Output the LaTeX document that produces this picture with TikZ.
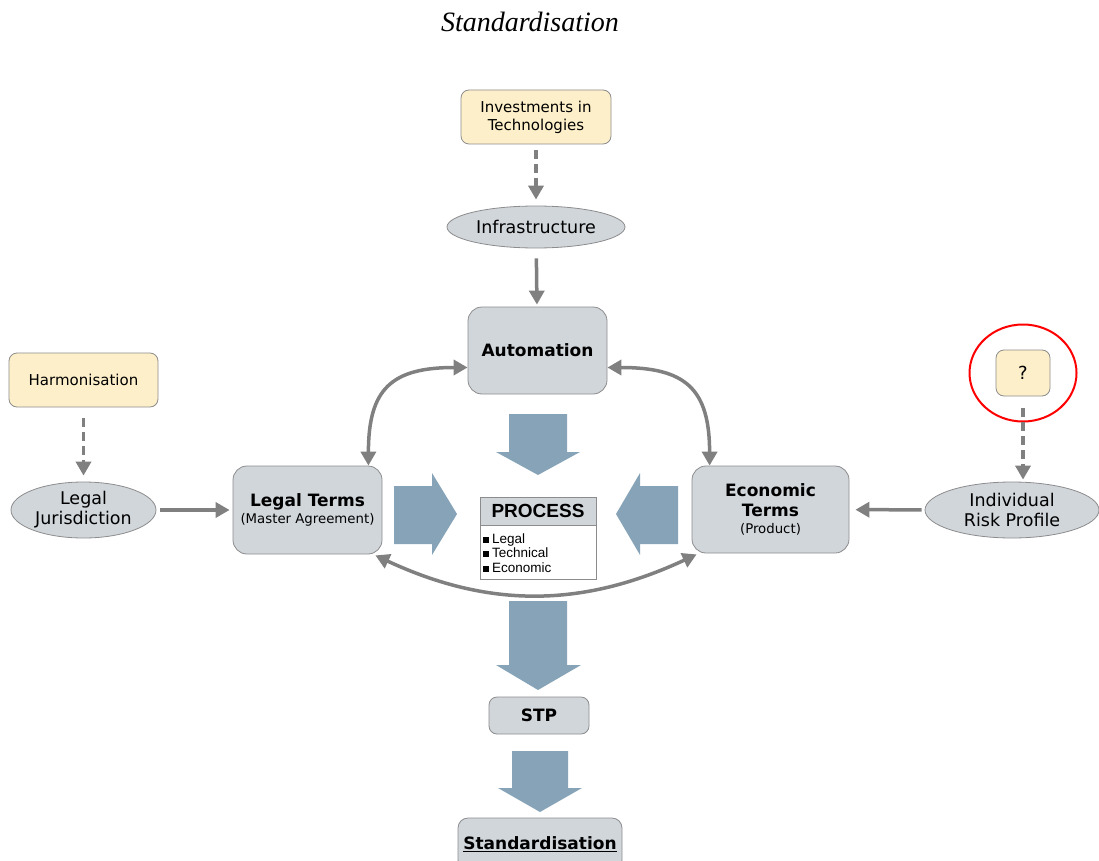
\documentclass[tikz,border=0pt]{standalone}
\usepackage{fontspec}
\setmainfont{DejaVu Sans}
\newfontfamily\arialfont{Liberation Sans}
\newfontfamily\timesfont{Liberation Serif}
\usetikzlibrary{shapes.geometric,arrows.meta,positioning,calc}
\definecolor{creamfill}{HTML}{FDEFC9}
\definecolor{boxgrey}{HTML}{D1D6DB}
\definecolor{boxline}{HTML}{8C8C8C}
\definecolor{linkgrey}{HTML}{808080}
\definecolor{flowblue}{HTML}{86A3B7}
\tikzset{
  tanbox/.style={draw=boxline, fill=creamfill, rounded corners=8pt,
    align=center, line width=0.8pt, inner sep=0pt},
  greybox/.style={draw=boxline, fill=boxgrey, rounded corners=14pt,
    align=center, line width=0.8pt, inner sep=0pt},
  oval/.style={ellipse, draw=boxline, fill=boxgrey, align=center,
    line width=0.8pt, inner sep=0pt},
  tip/.style={-{Triangle[length=14pt,width=15pt]}},
  link/.style={draw=linkgrey, line width=3.5pt, tip},
  dashlink/.style={link, dash pattern=on 9pt off 5pt},
  duallink/.style={draw=linkgrey, line width=3.5pt,
    {Triangle[length=14pt,width=15pt]}-{Triangle[length=14pt,width=15pt]}},
  fatarrow/.style={fill=flowblue, draw=none}
}
\newcommand{\bulletsq}{\rule[0.5pt]{6pt}{6pt}\hspace{3pt}}
\newcommand{\headtxt}{\bfseries\fontsize{17}{20}\selectfont}
\newcommand{\subtxt}{\mdseries\fontsize{13.3}{15}\selectfont}
\newcommand{\ovaltxt}{\fontsize{17.5}{20}\selectfont}
\newcommand{\tantxt}{\fontsize{15}{18}\selectfont}
\begin{document}
\begin{tikzpicture}[x=1pt,y=1pt]
  \useasboundingbox (0,0) rectangle (1099,-861);

  % title
  \node (title) at (530,-22) {\timesfont\itshape\fontsize{28}{32}\selectfont Standardisation};

  % top branch
  \node[tanbox, minimum width=150, minimum height=54, font=\tantxt]
    (invest) at (536,-117) {Investments in\\Technologies};
  \node[oval, minimum width=178, minimum height=42, font=\ovaltxt]
    (infra) at (536,-227) {Infrastructure};
  \node[greybox, minimum width=139, minimum height=87, font=\headtxt]
    (auto) at (537.5,-350.5) {Automation};

  % left branch
  \node[tanbox, minimum width=149, minimum height=54, font=\tantxt]
    (harm) at (83.5,-380) {Harmonisation};
  \node[oval, minimum width=145, minimum height=56, font=\ovaltxt]
    (jur) at (83.5,-510) {Legal\\Jurisdiction};
  \node[greybox, minimum width=149, minimum height=88, font=\headtxt]
    (legal) at (307.5,-510)
    {Legal Terms\\[-3pt] \subtxt (Master Agreement)};

  % right branch
  \node[tanbox, minimum width=54, minimum height=46, font=\fontsize{18}{20}\selectfont]
    (quest) at (1023,-373) {?};
  \node[draw=red, line width=2pt, ellipse, minimum width=107, minimum height=97]
    (ring) at (1023,-373) {};
  \node[oval, minimum width=174, minimum height=56, font=\ovaltxt]
    (risk) at (1012,-510) {Individual\\Risk Profile};
  \node[greybox, minimum width=157, minimum height=87, font=\headtxt]
    (econ) at (770.5,-509.5)
    {Economic\\Terms\\[-3pt] \subtxt (Product)};

  % process box
  \node[draw=boxline, fill=boxgrey, line width=0.8pt, minimum width=116, minimum height=28,
    inner sep=0pt, font=\arialfont\bfseries\fontsize{19}{21}\selectfont]
    (prochead) at (538,-511) {PROCESS};
  \node[draw=boxline, fill=white, line width=0.8pt, minimum width=116, minimum height=54,
    below=0pt of prochead, inner sep=3pt, text width=110, align=left,
    font=\arialfont\fontsize{13.5}{14.5}\selectfont]
    (procbody) {\bulletsq Legal\\\bulletsq Technical\\\bulletsq Economic};

  % bottom
  \node[greybox, rounded corners=8pt, minimum width=100, minimum height=37,
    font=\headtxt]
    (stp) at (539,-715.5) {STP};
  \node[greybox, rounded corners=10pt, minimum width=164, minimum height=52,
    font=\headtxt]
    (std) at (540,-844) {\underline{Standardisation}};

  % connectors
  \draw[dashlink, shorten <=6pt, shorten >=6pt] (invest) -- (infra);
  \draw[link, shorten <=10pt, shorten >=2pt] (infra) -- (auto);
  \draw[dashlink, shorten <=11pt, shorten >=6pt] (harm) -- (jur);
  \draw[link, shorten <=4pt, shorten >=3pt] (jur) -- (legal);
  \draw[dashlink, shorten <=12pt, shorten >=2pt] (quest) -- (quest.south |- risk.north);
  \draw[link, shorten <=3pt, shorten >=6pt] (risk) -- (econ);

  \draw[duallink] ($(legal.north east)+(-14,0)$) to[out=90,in=180,looseness=1.4]
    ($(auto.west)+(0,-17)$);
  \draw[duallink] ($(auto.east)+(0,-17)$) to[out=0,in=90,looseness=1.4]
    ($(econ.north west)+(18,0)$);
  \draw[duallink] ($(legal.south east)+(-7,-1)$) to[out=-25,in=205]
    ($(econ.south west)+(5,-1)$);

  % flow arrows
  \fill[fatarrow] (509,-414) -- (567,-414) -- (567,-452) -- (580,-452) -- (538,-475)
    -- (496,-452) -- (509,-452) -- cycle;
  \fill[fatarrow] (394,-486) -- (432,-486) -- (432,-473) -- (457,-514) -- (432,-555)
    -- (432,-544) -- (394,-544) -- cycle;
  \fill[fatarrow] (678,-486) -- (640,-486) -- (640,-473) -- (616,-514) -- (640,-555)
    -- (640,-544) -- (678,-544) -- cycle;
  \fill[fatarrow] (509,-601) -- (567,-601) -- (567,-665) -- (581,-665) -- (538,-690)
    -- (496,-665) -- (509,-665) -- cycle;
  \fill[fatarrow] (512,-751) -- (568,-751) -- (568,-788) -- (582,-788) -- (540,-812)
    -- (498,-788) -- (512,-788) -- cycle;
\end{tikzpicture}
\end{document}
